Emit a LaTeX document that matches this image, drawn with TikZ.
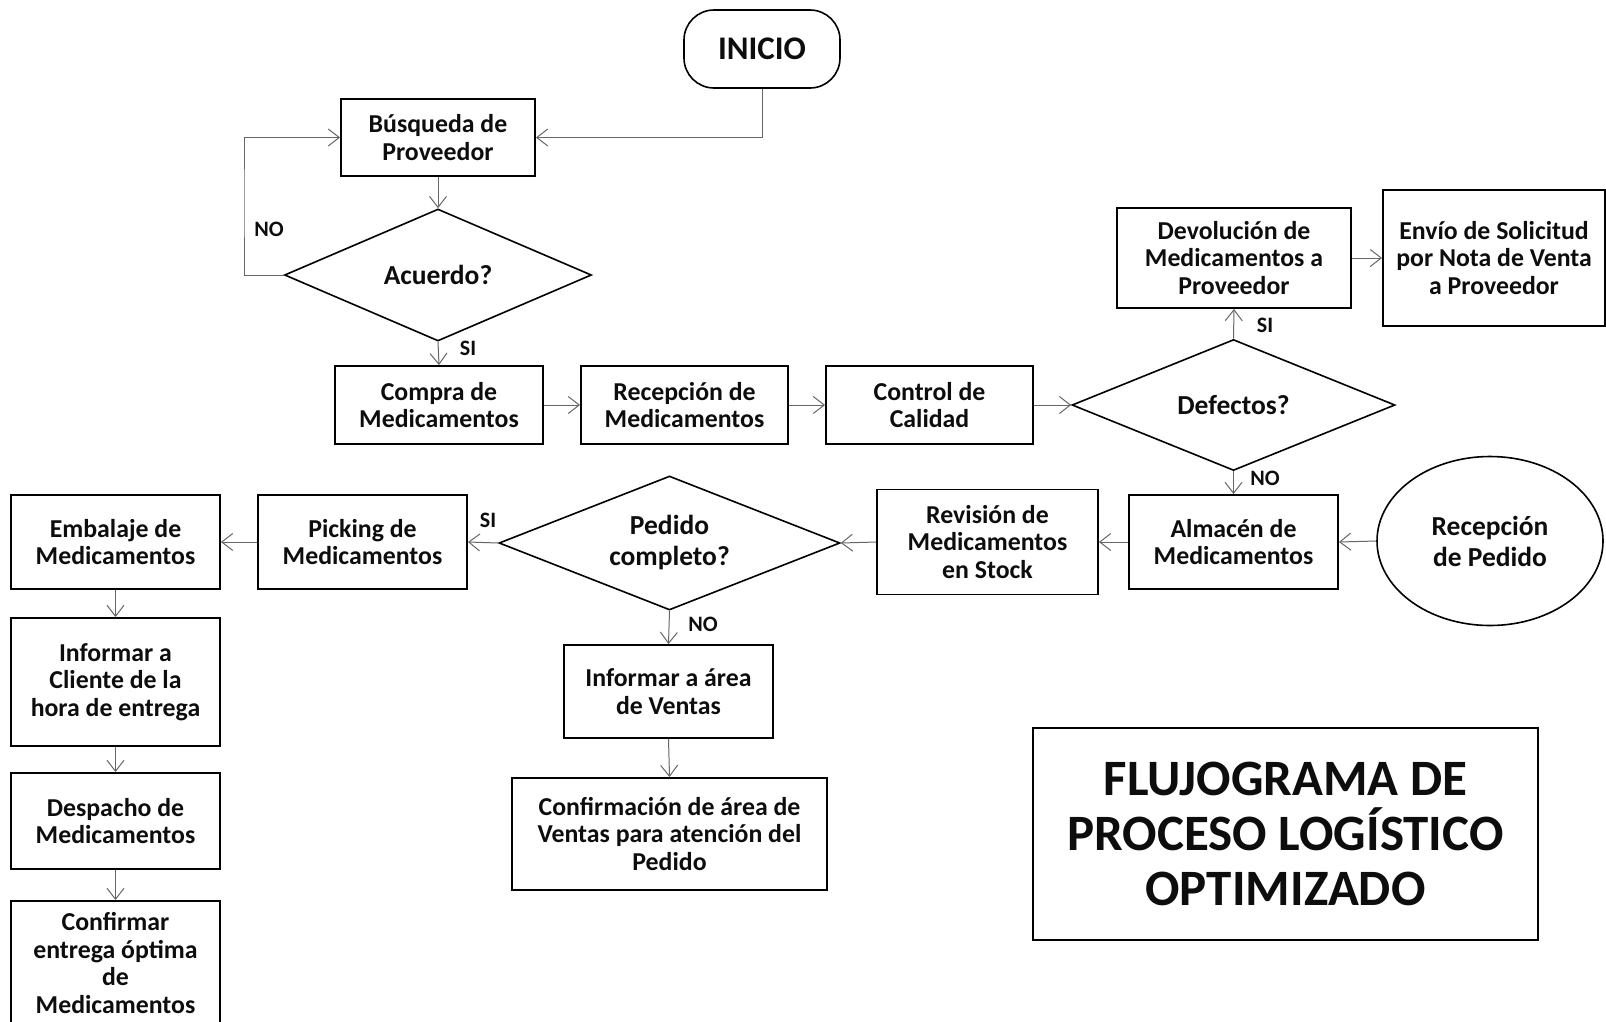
\documentclass[tikz,border=0pt]{standalone}
\usepackage{fontspec}
\setmainfont{Carlito}
\usetikzlibrary{shapes.geometric,arrows.meta}

\tikzset{
  base/.style={font=\bfseries\fontsize{25.8}{27.7}\selectfont, text=black!95, align=center, inner sep=0pt},
  proc/.style={base, draw=black, line width=1.9pt, rectangle},
  decision/.style={base, font=\bfseries\fontsize{27.5}{31}\selectfont, draw=black, line width=1.6pt,
                   diamond, aspect=2.5, inner sep=0pt},
  lbl/.style={font=\bfseries\fontsize{22}{24}\selectfont, text=black!95, inner sep=0pt},
  arr/.style={draw=black!60, line width=1pt,
              -{Straight Barb[length=11pt,width=17pt,line width=1pt]}},
}

\begin{document}
\begin{tikzpicture}[x=1pt,y=-1pt]
\useasboundingbox (0,0) rectangle (1606,1021);

% start terminal
\node[base, font=\bfseries\fontsize{33}{36}\selectfont, draw=black, line width=1.6pt,
      rounded corners=30pt, minimum width=156pt, minimum height=78pt] (inicio) at (762,49) {INICIO};

% supplier search and agreement
\node[proc, minimum width=194pt, minimum height=77pt] (busq) at (438,137.5) {Búsqueda de\\Proveedor};
\node[decision, minimum width=307pt, minimum height=132pt] (acuerdo) at (438,275) {Acuerdo?};

% purchase chain
\node[proc, minimum width=208pt, minimum height=78pt] (compra) at (439,405) {Compra de\\Medicamentos};
\node[proc, minimum width=207pt, minimum height=78pt] (recep) at (684.5,405) {Recepción de\\Medicamentos};
\node[proc, minimum width=207pt, minimum height=78pt] (control) at (929.5,405) {Control de\\Calidad};
\node[decision, minimum width=323pt, minimum height=131pt] (defectos) at (1233.5,405) {Defectos?};

% returns to supplier
\node[proc, minimum width=234pt, minimum height=100pt] (devol) at (1234,258) {Devolución de\\Medicamentos a\\Proveedor};
\node[proc, minimum width=222pt, minimum height=136pt] (envio) at (1494,258) {Envío de Solicitud\\por Nota de Venta\\a Proveedor};

% warehouse and order intake
\node[proc, minimum width=209pt, minimum height=94pt] (almacen) at (1233.5,542) {Almacén de\\Medicamentos};
\node[base, font=\bfseries\fontsize{27.5}{31}\selectfont, draw=black, line width=1.6pt, ellipse,
      minimum width=226pt, minimum height=169pt] (recped) at (1490,541) {Recepción\\de Pedido};
\node[proc, minimum width=221pt, minimum height=105pt] (revision) at (987.5,542) {Revisión de\\Medicamentos\\en Stock};
\node[decision, minimum width=341pt, minimum height=134pt] (pedido) at (669.5,543) {Pedido\\completo?};

% order fulfilment
\node[proc, minimum width=209pt, minimum height=94pt] (picking) at (362.5,542) {Picking de\\Medicamentos};
\node[proc, minimum width=209pt, minimum height=94pt] (embalaje) at (115.5,542) {Embalaje de\\Medicamentos};
\node[proc, minimum width=209pt, minimum height=128pt] (infcli) at (115.5,682) {Informar a\\Cliente de la\\hora de entrega};
\node[proc, minimum width=209pt, minimum height=96pt] (despacho) at (115.5,821) {Despacho de\\Medicamentos};
\node[proc, minimum width=209pt, minimum height=124pt] (confirmar) at (115.5,963) {Confirmar\\entrega óptima\\de\\Medicamentos};

% incomplete order
\node[proc, minimum width=209pt, minimum height=93pt] (infarea) at (668.5,691.5) {Informar a área\\de Ventas};
\node[proc, minimum width=315pt, minimum height=112pt] (confarea) at (669.5,834) {Confirmación de área de\\Ventas para atención del\\Pedido};

% title
\node[base, font=\bfseries\fontsize{51}{55}\selectfont, draw=black, line width=1.9pt,
      minimum width=505pt, minimum height=212pt] (titulo) at (1285.5,834)
      {FLUJOGRAMA DE\\PROCESO LOGÍSTICO\\OPTIMIZADO};

% branch labels
\node[lbl] (noA) at (269,229) {NO};
\node[lbl] (siA) at (468,348) {SI};
\node[lbl] (siD) at (1265,325) {SI};
\node[lbl] (noD) at (1265,478) {NO};
\node[lbl] (siP) at (488,520) {SI};
\node[lbl] (noP) at (703,624) {NO};

% connectors
\coordinate (loop) at (244,200);
\draw[arr] (inicio.south) |- (busq.east);
\draw[arr] (busq.south) -- (acuerdo.north);
\draw[arr] (acuerdo.west) -| (loop) |- (busq.west);
\draw[arr] (acuerdo.south) -- (compra.north);
\draw[arr] (compra.east) -- (recep.west);
\draw[arr] (recep.east) -- (control.west);
\draw[arr] (control.east) -- (defectos.west);
\draw[arr] (defectos.north) -- (devol.south);
\draw[arr] (devol.east) -- (envio.west);
\draw[arr] (defectos.south) -- (almacen.north);
\draw[arr] (recped.west) -- (almacen.east);
\draw[arr] (almacen.west) -- (revision.east);
\draw[arr] (revision.west) -- (pedido.east);
\draw[arr] (pedido.west) -- (picking.east);
\draw[arr] (picking.west) -- (embalaje.east);
\draw[arr] (embalaje.south) -- (infcli.north);
\draw[arr] (infcli.south) -- (despacho.north);
\draw[arr] (despacho.south) -- (confirmar.north);
\draw[arr] (pedido.south) -- (infarea.north);
\draw[arr] (infarea.south) -- (confarea.north);
\end{tikzpicture}
\end{document}
